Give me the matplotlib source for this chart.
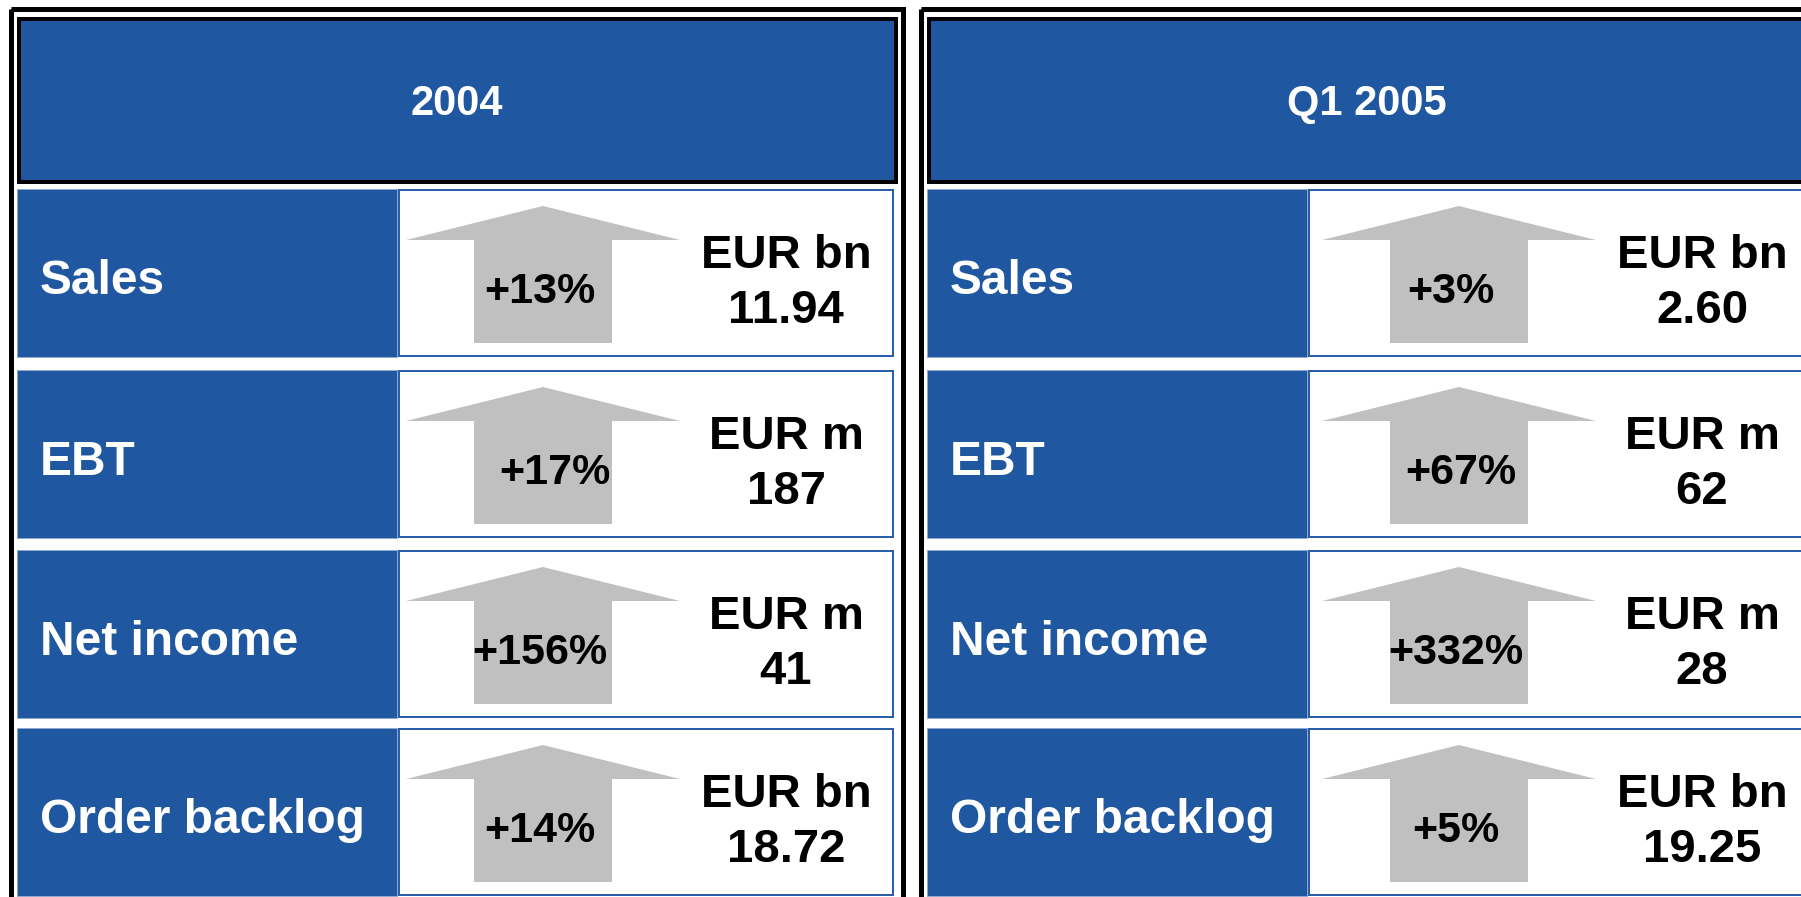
import matplotlib
matplotlib.use("Agg")
import matplotlib.pyplot as plt
from matplotlib.patches import Rectangle, Polygon

plt.rcParams['font.family'] = ['Liberation Sans', 'DejaVu Sans']

# ---- data ----
periods = ["2004", "Q1 2005"]
metrics = ["Sales", "EBT", "Net income", "Order backlog"]
units = ["EUR bn", "EUR m", "EUR m", "EUR bn"]
growth_2004 = [13, 17, 156, 14]
growth_q1_2005 = [3, 67, 332, 5]
values_2004 = [11.94, 187, 41, 18.72]
values_q1_2005 = [2.60, 62, 28, 19.25]

growths = [growth_2004, growth_q1_2005]
values = [values_2004, values_q1_2005]

# ---- layout (pixels) ----
W, H = 1801, 897
BLUE = "#1F57A0"
CELL_EDGE = "#2B5EAA"
LIGHT_EDGE = "#8FA9D3"
GRAY = "#C0C0C0"
PX = 0.72  # points per pixel at dpi 100

fig = plt.figure(figsize=(W / 100, H / 100), dpi=100)
ax = fig.add_axes([0, 0, 1, 1])
ax.set_xlim(0, W)
ax.set_ylim(H, 0)
ax.axis("off")

panel_dx = [0, 910]      # cell offset of each panel
content_dx = [0, 916]    # offset of arrows / text
row_tops = [189, 370, 550, 728]
row_h = 168
pct_nudge = [[-3, 12, -3, -3], [-8, 2, -3, -3]]

for p, period in enumerate(periods):
    dx = panel_dx[p]
    cdx = content_dx[p]
    # outer frame
    ax.add_patch(Rectangle((10.5 + dx, 9.5), 892, 900, fill=False,
                           edgecolor="black", lw=5 * PX, zorder=1))
    # header
    ax.add_patch(Rectangle((18.5 + dx, 18.7), 877, 163.3, facecolor=BLUE,
                           edgecolor="black", lw=4 * PX, zorder=2))
    ax.text(457 + dx, 115, period, color="white", fontsize=30,
            fontweight="bold", ha="center", va="baseline", zorder=5)

    for r, metric in enumerate(metrics):
        top = row_tops[r]
        # label cell
        ax.add_patch(Rectangle((17 + dx, top), 380, row_h, facecolor=BLUE,
                               edgecolor=LIGHT_EDGE, lw=1 * PX, zorder=2))
        ax.text(40 + dx, top + 105, metric, color="white", fontsize=34.5,
                fontweight="bold", ha="left", va="baseline", zorder=5)
        # value cell
        ax.add_patch(Rectangle((399 + dx, top + 1), 494, row_h - 2,
                               facecolor="white", edgecolor=CELL_EDGE,
                               lw=2 * PX, zorder=2))
        # arrow
        cx = 543 + cdx
        pts = [(cx, top + 17), (cx + 137, top + 51), (cx + 69, top + 51),
               (cx + 69, top + 154), (cx - 69, top + 154),
               (cx - 69, top + 51), (cx - 137, top + 51)]
        ax.add_patch(Polygon(pts, closed=True, facecolor=GRAY,
                             edgecolor="none", zorder=3))
        g = growths[p][r]
        ax.text(cx + pct_nudge[p][r], top + 114, f"+{g}%", color="black",
                fontsize=31, fontweight="bold", ha="center", va="baseline",
                zorder=5)
        # value text
        unit = units[r]
        v = values[p][r]
        vtxt = f"{v:.2f}" if unit.endswith("bn") else f"{v:.0f}"
        vx = 786 + cdx
        ax.text(vx, top + 79, unit, color="black", fontsize=34,
                fontweight="bold", ha="center", va="baseline", zorder=5)
        ax.text(vx, top + 134, vtxt, color="black", fontsize=34,
                fontweight="bold", ha="center", va="baseline", zorder=5)

fig.savefig("out.png", dpi=100, facecolor="white")
